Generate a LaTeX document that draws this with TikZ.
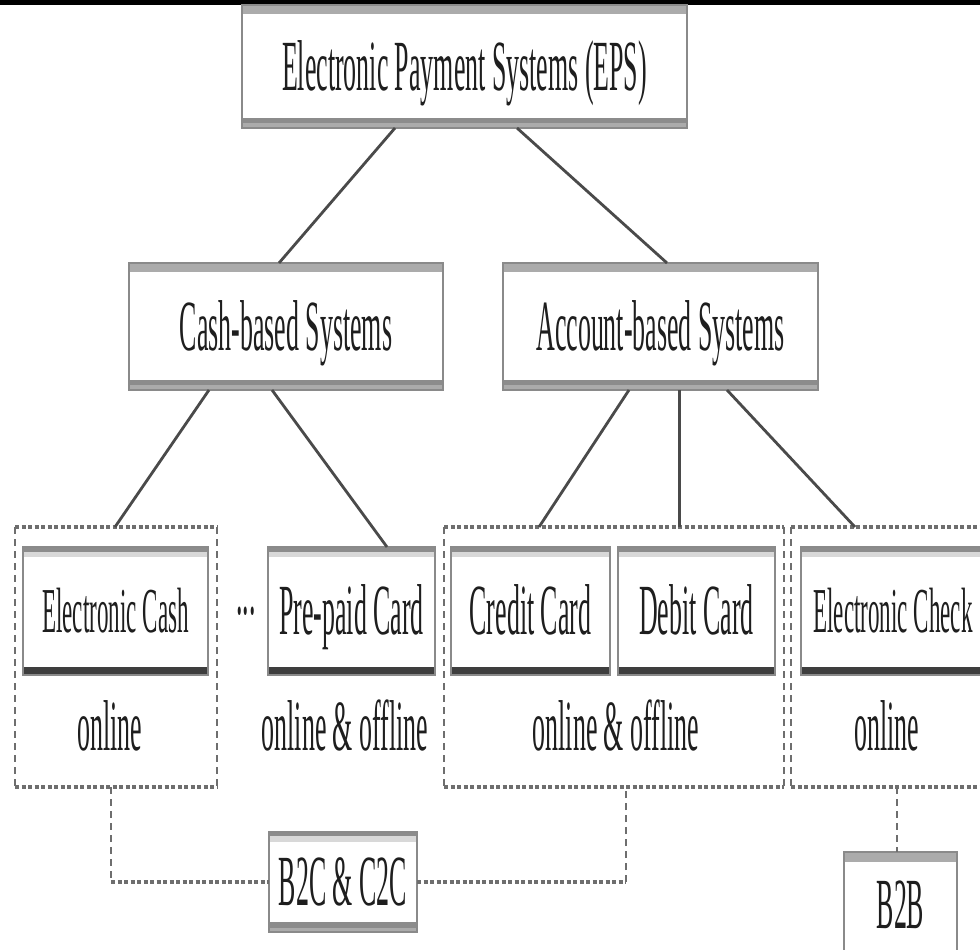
\documentclass[tikz,border=0pt]{standalone}
\usepackage{fontspec}
\setmainfont{Liberation Serif}[FakeStretch=0.36]
\definecolor{sidec}{HTML}{8A8A8A}
\definecolor{bandtop}{HTML}{ABABAB}
\definecolor{bandlight}{HTML}{D8D8D8}
\definecolor{banddark}{HTML}{3E3E3E}
\definecolor{bandmid}{HTML}{8C8C8C}
\definecolor{linec}{HTML}{4A4A4A}
\definecolor{dashc}{HTML}{6E6E6E}
\definecolor{textc}{HTML}{1E1E1E}
\tikzset{
  base box/.style={draw=sidec, line width=1.8pt, fill=white, inner sep=0pt, outer sep=0pt,
    text=textc, text height=47pt, text depth=0pt, align=center,
    font=\fontsize{72}{80}\selectfont},
  ecfont/.style={font=\fontsize{64}{70}\selectfont, text height=42pt},
  bigbox/.style={base box, path picture={
      \fill[bandtop] (path picture bounding box.north west) rectangle ([yshift=-9pt]path picture bounding box.north east);
      \fill[bandmid] ([yshift=10pt]path picture bounding box.south west) rectangle ([yshift=5pt]path picture bounding box.south east);
      \fill[bandtop] ([yshift=5pt]path picture bounding box.south west) rectangle (path picture bounding box.south east);}},
  cardbox/.style={base box, path picture={
      \fill[bandmid] (path picture bounding box.north west) rectangle ([yshift=-5pt]path picture bounding box.north east);
      \fill[bandlight] ([yshift=-5pt]path picture bounding box.north west) rectangle ([yshift=-10pt]path picture bounding box.north east);
      \fill[banddark] (path picture bounding box.south west) rectangle ([yshift=8pt]path picture bounding box.south east);}},
  linkbox/.style={base box, path picture={
      \fill[bandmid] (path picture bounding box.north west) rectangle ([yshift=-4pt]path picture bounding box.north east);
      \fill[bandlight] ([yshift=-4pt]path picture bounding box.north west) rectangle ([yshift=-10pt]path picture bounding box.north east);
      \fill[bandmid] ([yshift=10pt]path picture bounding box.south west) rectangle ([yshift=4pt]path picture bounding box.south east);
      \fill[bandtop] ([yshift=4pt]path picture bounding box.south west) rectangle (path picture bounding box.south east);}},
  topbandbox/.style={base box, path picture={
      \fill[bandtop] (path picture bounding box.north west) rectangle ([yshift=-10pt]path picture bounding box.north east);}},
  group/.style={draw=none, inner sep=0pt, outer sep=0pt},
  label text/.style={anchor=base, inner sep=0pt, text=textc, font=\fontsize{72}{80}\selectfont},
  conn/.style={draw=linec, line width=2.8pt},
  hdash/.style={draw=dashc, line width=4pt, dash pattern=on 4pt off 2.5pt},
  vdash/.style={draw=dashc, line width=2.2pt, dash pattern=on 7pt off 5pt},
}
\begin{document}
\begin{tikzpicture}[x=1pt, y=-1pt]
\useasboundingbox (0,0) rectangle (980,950);
\fill[white] (0,0) rectangle (980,950);
\fill[black] (0,0) rectangle (980,5);

% main boxes
\node[bigbox, minimum width=445pt, minimum height=123pt] (eps) at (464.5,66.5) {Electronic Payment Systems (EPS)};
\node[bigbox, minimum width=314pt, minimum height=127pt] (cash) at (286,326.5) {Cash-based Systems};
\node[bigbox, minimum width=315pt, minimum height=127pt] (acct) at (660.5,326.5) {Account-based Systems};

% groups (dashed frames)
\node[group, minimum width=202pt, minimum height=260pt] (g1) at (116,657) {};
\node[group, minimum width=340pt, minimum height=260pt] (g2) at (614,657) {};
\node[group, minimum width=209pt, minimum height=260pt] (g3) at (895.5,657) {};
\foreach \g in {g1,g2,g3}{
  \draw[hdash] (\g.north west) -- (\g.north east);
  \draw[hdash] (\g.south west) -- (\g.south east);
  \draw[vdash] (\g.north west) -- (\g.south west);
  \draw[vdash] (\g.north east) -- (\g.south east);
}

% card boxes
\node[cardbox, ecfont, minimum width=185pt, minimum height=128pt] (ecash) at (115.5,611) {Electronic Cash};
\node[cardbox, minimum width=167pt, minimum height=128pt] (prepaid) at (351.5,611) {Pre-paid Card};
\node[cardbox, minimum width=159pt, minimum height=128pt] (credit) at (530.5,611) {Credit Card};
\node[cardbox, minimum width=157pt, minimum height=128pt] (debit) at (696.5,611) {Debit Card};
\node[cardbox, ecfont, minimum width=184pt, minimum height=128pt] (echeck) at (893,611) {Electronic Check};
\node[label text] (dots) at (246,614) {...};

% online labels
\node[label text] (on1) at (110,750) {online};
\node[label text] (on2) at (345,750) {online \& offline};
\node[label text] (on3) at (616,750) {online \& offline};
\node[label text] (on4) at (887,750) {online};

% market boxes
\node[linkbox, minimum width=148pt, minimum height=100pt] (b2c) at (343,882) {B2C \& C2C};
\node[topbandbox, minimum width=113pt, minimum height=106pt] (b2b) at (900.5,905) {B2B};

% solid connectors
\draw[conn] ([xshift=-69.5pt]eps.south) -- ([xshift=-7pt]cash.north);
\draw[conn] ([xshift=52.5pt]eps.south) -- ([xshift=6.5pt]acct.north);
\draw[conn] ([xshift=-77pt]cash.south) -- ([xshift=-1pt]g1.north);
\draw[conn] ([xshift=-14pt]cash.south) -- ([xshift=35.5pt]prepaid.north);
\draw[conn] ([xshift=-31.5pt]acct.south) -- ([xshift=-75pt]g2.north);
\draw[conn] ([xshift=19pt]acct.south) -- ([xshift=65.5pt]g2.north);
\draw[conn] ([xshift=66.5pt]acct.south) -- ([xshift=-40.5pt]g3.north);

% dashed connectors
\coordinate (c1) at ([xshift=-5pt]g1.south |- b2c.west);
\coordinate (c2) at ([xshift=12pt]g2.south |- b2c.east);
\draw[vdash] ([xshift=-5pt]g1.south) -- (c1);
\draw[hdash] (c1) -- (b2c.west);
\draw[hdash] (b2c.east) -- (c2);
\draw[vdash] (c2) -- ([xshift=12pt]g2.south);
\draw[vdash] ([xshift=1.5pt]g3.south) -- ([xshift=-3.5pt]b2b.north);
\end{tikzpicture}
\end{document}
